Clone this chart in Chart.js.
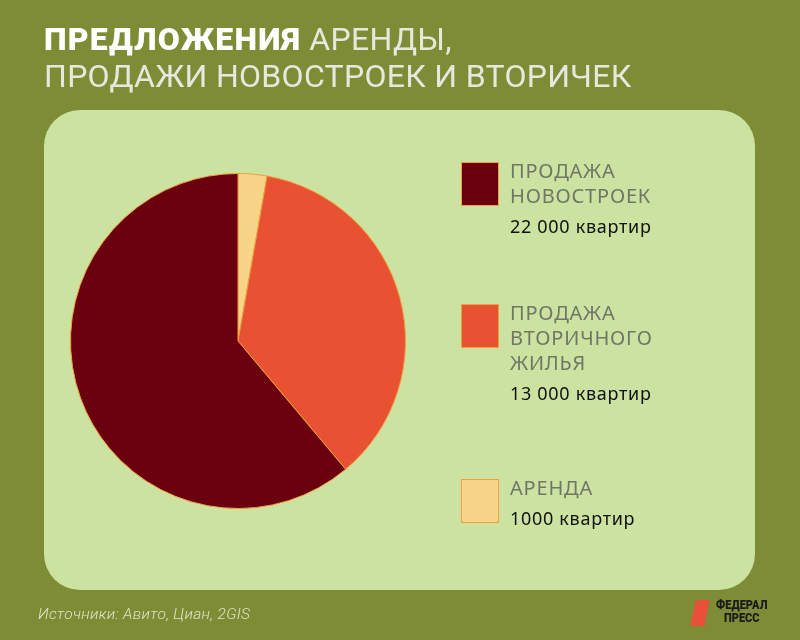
<!DOCTYPE html>
<html>
<head>
<meta charset="utf-8">
<script src="https://cdn.jsdelivr.net/npm/chart.js@4"></script>
<style>
  html, body { margin: 0; padding: 0; }
  body { width: 800px; height: 640px; position: relative; overflow: hidden; background: #7e8c36; font-family: Roboto, sans-serif; }
  #chart { position: absolute; left: 0; top: 0; }
  .title { position: absolute; left: 44px; font-size: 32px; line-height: 32px; color: #e6e8de; white-space: nowrap; letter-spacing: 0.3px; }
  .title b { color: #fff; font-weight: 900; letter-spacing: 1.2px; }
  .legend-item { position: absolute; left: 461px; }
  .legend-box { position: absolute; left: 0; top: 0; width: 36px; height: 42px; border: 1px solid #f0a040; }
  .legend-name { position: absolute; left: 49px; top: -4px; font-family: 'Noto Sans', sans-serif; font-size: 20px; line-height: 25px; color: #6f7767; letter-spacing: 0.8px; white-space: nowrap; }
  .legend-value { font-size: 18px; line-height: 24px; color: #111; margin-top: 6px; letter-spacing: 0.7px; }
  .source { position: absolute; left: 38px; top: 605px; font-size: 15.5px; font-style: italic; font-weight: 300; color: #dde4c6; letter-spacing: 0.3px; }
  .logo-mark { position: absolute; left: 693px; top: 600px; width: 14px; height: 26px; background: #e8503a; transform: skewX(-12deg); }
  .logo-text { position: absolute; left: 716px; top: 598px; font-size: 13px; line-height: 13px; font-weight: 900; color: #1a1a1a; text-align: center; transform: scaleX(0.85); transform-origin: 0 0; }
</style>
</head>
<body>
<canvas id="chart" width="800" height="640"></canvas>
<div class="title" style="top:23px"><b>ПРЕДЛОЖЕНИЯ</b> АРЕНДЫ,</div>
<div class="title" style="top:60px">ПРОДАЖИ НОВОСТРОЕК И ВТОРИЧЕК</div>
<div id="legend"></div>
<div class="source">Источники: Авито, Циан, 2GIS</div>
<div class="logo-mark"></div>
<div class="logo-text">ФЕДЕРАЛ<br>ПРЕСС</div>
<script>
// data, clockwise from 12 o'clock
const categories = [['АРЕНДА'], ['ПРОДАЖА', 'ВТОРИЧНОГО', 'ЖИЛЬЯ'], ['ПРОДАЖА', 'НОВОСТРОЕК']];
const flats = [1000, 13000, 22000];
const unit = 'квартир';

const colors = ['#f7d488', '#e85232', '#6a000f'];
const legendTops = [479, 304, 162];

function fmt(n) {
  // russian style: no separator for 4 digits
  if (n < 10000) return String(n);
  return n.toLocaleString('ru-RU').replace(/\s/g, ' ');
}

// panel behind the pie
const panel = {
  id: 'panel',
  beforeDraw(chart) {
    const ctx = chart.ctx;
    ctx.save();
    ctx.fillStyle = '#cbe2a0';
    ctx.beginPath();
    ctx.roundRect(44, 110, 711, 480, 36);
    ctx.fill();
    ctx.restore();
  }
};

const chart = new Chart(document.getElementById('chart'), {
  type: 'pie',
  data: {
    labels: categories.map(c => c.join(' ')),
    datasets: [{
      data: flats,
      backgroundColor: colors,
      borderColor: '#f0a040',
      borderWidth: 1
    }]
  },
  options: {
    responsive: false,
    animation: false,
    layout: { padding: { left: 70, top: 173, right: 394, bottom: 131 } },
    plugins: {
      legend: { display: false },
      tooltip: { enabled: false }
    }
  },
  plugins: [panel]
});

// html legend built from the same arrays
const legend = document.getElementById('legend');
categories.forEach((lines, i) => {
  const item = document.createElement('div');
  item.className = 'legend-item';
  item.style.top = legendTops[i] + 'px';
  item.innerHTML =
    '<div class="legend-box" style="background:' + colors[i] + '"></div>' +
    '<div class="legend-name">' + lines.join('<br>') +
    '<div class="legend-value">' + fmt(flats[i]) + ' ' + unit + '</div></div>';
  legend.appendChild(item);
});
</script>
</body>
</html>
